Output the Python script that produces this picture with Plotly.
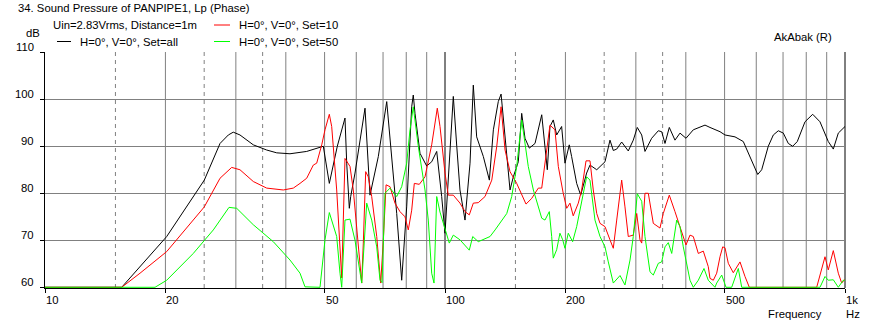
import math
import plotly.graph_objects as go

# ---------------- data ----------------
black_f = [10, 15.55, 20.15, 25.02, 27.39, 28.73, 29.56, 30.72, 33.17, 35.83,
           37.96, 40.97, 45.11, 49.63, 51.38, 52.57, 53.80, 56.23, 56.79, 57.65,
           58.11, 59.57, 63.10, 64.94, 68.12, 71.50, 73.59, 75.73, 77.94, 80.21,
           82.55, 83.31, 84.14, 86.60, 90.00, 92.63, 95.34, 98.12, 100.0, 101.9,
           104.9, 107.0, 109.0, 112.2, 115.5, 117.7, 120.0, 124.7, 129.1, 132.1,
           135.9, 138.1, 141.3, 145.4, 148.2, 152.5, 155.5, 158.5, 162.5, 167.9,
           174.5, 178.9, 180.2, 183.0, 186.5, 190.2, 195.7, 199.5, 204.5, 207.3,
           213.4, 218.4, 226.0, 230.4, 239.5, 251.2, 258.5, 263.5, 268.7, 276.5,
           287.2, 295.6, 302.5, 310.3, 316.2, 328.6, 341.4, 348.1, 354.8, 363.7,
           375.8, 386.8, 400.4, 417.6, 446.7, 459.7, 487.0, 501.2, 530.9, 556.9,
           578.8, 605.1, 619.1, 643.0, 661.9, 681.2, 701.1, 721.5, 740.0, 759.8,
           794.3, 830.3, 865.9, 908.3, 934.9, 962.2, 1000]
black_db = [60, 60, 70.8, 82.8, 90.6, 92.4, 93.0, 92.4, 90.3, 89.2,
            88.6, 88.4, 88.9, 90.0, 82.1, 85.7, 90.0, 96.0, 86.4, 76.8,
            79.3, 84.3, 98.1, 79.6, 87.8, 99.5, 87.8, 75.7, 61.5, 77.1,
            98.4, 100.9, 97.0, 88.5, 85.8, 86.7, 88.9, 79.3, 71.5, 82.8,
            100.6, 90.0, 80.7, 74.3, 86.4, 103.0, 92.0, 87.8, 82.8, 93.5,
            99.5, 101.1, 92.0, 80.7, 83.5, 86.7, 97.0, 91.7, 89.6, 90.6,
            96.7, 87.8, 85.0, 94.2, 95.6, 92.4, 94.2, 86.4, 90.3, 87.8,
            82.1, 79.6, 84.3, 86.0, 85.0, 86.7, 91.3, 89.1, 89.4, 90.9,
            89.0, 91.3, 94.0, 92.4, 88.9, 91.7, 93.3, 93.1, 90.6, 94.0,
            91.3, 92.8, 91.7, 93.5, 94.5, 94.0, 93.1, 92.4, 92.0, 91.0,
            87.8, 84.0, 85.0, 90.0, 92.4, 93.3, 92.8, 90.6, 90.0, 91.0,
            95.2, 96.8, 95.2, 91.0, 89.4, 92.8, 94.2]

red_f = [10, 15.55, 17.28, 20.15, 25.02, 27.39, 29.29, 30.72, 33.17, 35.83,
         39.42, 41.76, 43.40, 45.11, 46.86, 47.78, 49.18, 50.12, 51.38, 52.09,
         53.61, 54.42, 54.86, 55.18, 56.23, 57.88, 58.99, 60.16, 61.31, 61.91,
         62.48, 63.35, 64.30, 65.58, 67.50, 69.07, 70.11, 71.23, 72.87, 74.98,
         77.17, 79.43, 80.95, 82.55, 83.80, 86.25, 89.13, 92.63, 95.66, 97.16,
         100.0, 101.9, 104.9, 109.0, 112.2, 115.0, 117.7, 121.1, 125.9, 130.9,
         134.7, 138.1, 141.3, 145.4, 151.1, 159.4, 164.7, 171.1, 174.5, 179.6,
         183.0, 188.3, 192.0, 197.5, 201.5, 205.3, 209.2, 215.4, 219.6, 225.2,
         230.4, 234.8, 239.5, 244.1, 251.2, 258.5, 263.5, 268.7, 276.5, 281.8,
         287.2, 295.6, 301.5, 307.2, 310.3, 316.2, 322.3, 331.7, 344.7, 351.3,
         363.7, 375.8, 386.8, 400.4, 409.7, 417.6, 429.8, 442.3, 455.2, 459.7,
         468.6, 477.8, 487.0, 494.6, 501.2, 510.8, 525.7, 546.4, 562.3, 576.5,
         849.6, 891.3, 908.3, 934.9, 962.2, 981.2, 1000]
red_db = [60, 60, 63.0, 67.6, 77.1, 83.2, 85.5, 85.0, 82.5, 81.1,
          80.7, 81.1, 82.1, 83.2, 86.0, 86.4, 90.3, 93.5, 96.8, 94.2,
          80.7, 70.8, 64.4, 62.0, 87.4, 85.7, 80.7, 72.2, 64.4, 60.9,
          69.4, 84.6, 83.5, 79.3, 70.8, 60.9, 70.0, 81.8, 81.4, 77.9,
          76.1, 75.0, 72.2, 76.4, 82.1, 81.9, 83.5, 90.3, 98.1, 94.2,
          84.3, 79.6, 79.6, 77.9, 76.1, 75.4, 77.9, 78.0, 79.3, 82.8,
          90.0, 98.4, 89.2, 84.6, 82.1, 77.7, 78.9, 81.1, 81.1, 90.0,
          94.5, 93.5, 85.7, 80.0, 76.8, 77.9, 75.2, 77.9, 80.7, 86.9,
          86.9, 80.7, 75.7, 73.6, 72.9, 70.1, 68.3, 74.3, 82.8, 77.1,
          70.8, 71.1, 75.7, 70.1, 69.4, 80.0, 80.0, 73.6, 72.6, 75.7,
          79.6, 76.1, 72.9, 69.0, 71.1, 70.8, 67.2, 67.7, 64.4, 61.9,
          61.5, 63.0, 66.5, 68.6, 68.4, 65.1, 63.1, 65.4, 62.3, 60.0,
          60.0, 66.5, 63.7, 67.8, 63.0, 60.9, 61.7]

green_f = [10, 18.84, 20.15, 23.48, 26.35, 28.84, 30.15, 33.17, 37.22, 40.97,
           43.40, 44.67, 48.70, 49.83, 50.12, 51.38, 52.57, 53.61, 54.64, 55.18,
           56.23, 57.88, 59.57, 61.31, 61.91, 63.72, 65.58, 67.50, 68.79, 69.59,
           70.79, 72.87, 75.73, 77.94, 80.21, 81.75, 83.31, 85.75, 89.13, 90.83,
           92.63, 93.87, 95.34, 97.16, 99.0, 101.0, 102.5, 104.9, 109.0, 115.0,
           117.3, 121.1, 124.7, 129.6, 133.4, 137.3, 142.7, 146.8, 151.1, 155.5,
           158.5, 161.5, 166.3, 171.1, 174.5, 177.8, 182.3, 184.8, 186.5, 190.2,
           193.8, 196.9, 199.5, 203.3, 208.5, 213.4, 219.6, 226.0, 230.4, 237.1,
           244.1, 251.2, 256.0, 263.5, 273.9, 281.8, 290.1, 295.6, 302.5, 310.3,
           316.2, 325.4, 331.7, 341.4, 348.1, 354.8, 361.6, 368.8, 379.5, 386.8,
           394.2, 409.7, 417.6, 429.8, 444.1, 455.2, 473.1, 477.8, 491.8, 504.1,
           520.9, 541.1, 551.8, 865.9, 891.3, 908.3, 934.9, 962.2, 990.2, 1000]
green_db = [60, 60, 61.5, 67.2, 72.2, 77.0, 76.8, 73.3, 69.7, 65.8,
            63.0, 60.1, 60, 67.2, 70.1, 75.9, 72.9, 70.8, 63.0, 60.0,
            74.3, 74.5, 70.0, 63.7, 60.9, 77.9, 74.3, 68.6, 61.5, 61.0,
            80.0, 81.1, 79.3, 81.4, 86.4, 93.5, 98.4, 90.0, 80.7, 74.3,
            63.0, 60.9, 79.3, 76.0, 73.6, 70.8, 69.4, 71.1, 70.1, 67.9,
            70.8, 69.7, 70.2, 70.8, 72.2, 73.6, 75.7, 79.3, 85.7, 95.6,
            90.0, 85.7, 80.7, 77.1, 74.7, 74.3, 76.1, 70.8, 66.2, 68.0,
            71.5, 70.1, 68.3, 71.5, 69.7, 72.9, 77.9, 83.5, 82.8, 74.3,
            70.8, 68.6, 65.4, 60.9, 62.5, 60.5, 65.8, 70.8, 79.9, 78.3,
            70.8, 63.3, 62.6, 65.1, 65.4, 68.6, 69.5, 67.2, 74.3, 72.9,
            68.6, 61.5, 60.0, 61.5, 64.0, 61.5, 60.0, 60.9, 62.6, 60.0,
            60.0, 64.0, 60.0, 60.0, 62.3, 61.5, 61.6, 60.0, 61.5, 61.5]

x_tick_vals = [10, 20, 50, 100, 200, 500, 1000]
x_tick_text = ["10", "20", "50", "100", "200", "500", "1k"]
y_tick_vals = [60, 70, 80, 90, 100, 110]
grid_solid = [20, 30, 40, 50, 60, 70, 80, 90, 200, 300, 400, 500, 600, 700, 800, 900]
grid_dashed = [15, 25, 35, 150, 250, 350]

series = [
    ("H=0°, V=0°, Set=all", black_f, black_db, "#000000"),
    ("H=0°, V=0°, Set=10", red_f, red_db, "#ff0000"),
    ("H=0°, V=0°, Set=50", green_f, green_db, "#00ff00"),
]

# ---------------- layout geometry ----------------
W, H = 872, 326
ML, MR, MT, MB = 45, 27, 52, 38
PW, PH = W - ML - MR, H - MT - MB
FONT = "Liberation Sans, Arial, sans-serif"
FS = 11.3


def px(x):
    return (x - ML) / PW


def py(y):
    return (H - MB - y) / PH


def fx(f):
    return (math.log10(f) - 1) / 2


fig = go.Figure()
for name, f, db, col in series:
    fig.add_trace(go.Scatter(x=f, y=db, mode="lines", name=name,
                             line=dict(color=col, width=1), showlegend=False,
                             hoverinfo="skip"))

shapes = []
for g in grid_solid:
    shapes.append(dict(type="line", xref="paper", yref="paper", x0=fx(g), x1=fx(g),
                       y0=0, y1=1, line=dict(color="#808080", width=1), layer="below"))
for g in grid_dashed:
    shapes.append(dict(type="line", xref="paper", yref="paper", x0=fx(g), x1=fx(g),
                       y0=0, y1=1, line=dict(color="#808080", width=1, dash="4px,4px"),
                       layer="below"))
for g in [100, 1000]:
    shapes.append(dict(type="line", xref="paper", yref="paper", x0=fx(g), x1=fx(g),
                       y0=0, y1=1, line=dict(color="#000000", width=1), layer="below"))

# legend samples
shapes.append(dict(type="line", xref="paper", yref="paper", x0=px(57), x1=px(71),
                   y0=py(41.5), y1=py(41.5), line=dict(color="#000000", width=1)))
shapes.append(dict(type="line", xref="paper", yref="paper", x0=px(214), x1=px(230),
                   y0=py(25), y1=py(25), line=dict(color="#ff0000", width=1)))
shapes.append(dict(type="line", xref="paper", yref="paper", x0=px(214), x1=px(230),
                   y0=py(41.5), y1=py(41.5), line=dict(color="#00ff00", width=1)))

annotations = []


def text(t, x, y, xanchor="left"):
    annotations.append(dict(text=t, xref="paper", yref="paper", x=px(x), y=py(y),
                            xanchor=xanchor, yanchor="middle", showarrow=False,
                            borderpad=0, font=dict(family=FONT, size=FS, color="#000000")))


text("34. Sound Pressure of PANPIPE1, Lp (Phase)", 17, 8)
text("Uin=2.83Vrms, Distance=1m", 52, 25)
text(series[0][0], 79, 41.5)
text(series[1][0], 238, 25)
text(series[2][0], 238, 41.5)
text("dB", 25, 33)
text("AkAbak (R)", 773, 37)
text("Frequency", 767, 314)
text("Hz", 845, 314)

for v, t in zip(x_tick_vals, x_tick_text):
    annotations.append(dict(text=t, xref="paper", yref="paper", x=fx(v), y=py(300),
                            xanchor="left", yanchor="middle", showarrow=False,
                            borderpad=0, font=dict(family=FONT, size=FS, color="#000000")))
for v in y_tick_vals:
    annotations.append(dict(text=str(v), xref="paper", yref="y", x=px(35), y=v,
                            yshift=5, xanchor="right", yanchor="middle", showarrow=False,
                            borderpad=0, font=dict(family=FONT, size=FS, color="#000000")))

fig.update_layout(
    width=W, height=H,
    margin=dict(l=ML, r=MR, t=MT, b=MB, pad=0),
    paper_bgcolor="#ffffff", plot_bgcolor="#ffffff",
    font=dict(family=FONT, size=FS, color="#000000"),
    shapes=shapes, annotations=annotations,
    xaxis=dict(type="log", range=[1, 3], tickvals=x_tick_vals, showticklabels=False,
               ticks="outside", ticklen=4, tickcolor="#000000", showgrid=False,
               showline=True, linecolor="#000000", linewidth=1, zeroline=False,
               layer="below traces", fixedrange=True),
    yaxis=dict(range=[59.85, 110.05], tickvals=y_tick_vals, showticklabels=False,
               ticks="outside", ticklen=4, tickcolor="#000000", showgrid=True,
               gridcolor="#808080", gridwidth=1, showline=True, linecolor="#000000",
               linewidth=1, zeroline=False, layer="below traces", fixedrange=True),
)

fig.write_html("out.html", config={"displayModeBar": False},
               post_script="document.body.style.margin='0px';"
                           "document.body.style.overflow='hidden';")
